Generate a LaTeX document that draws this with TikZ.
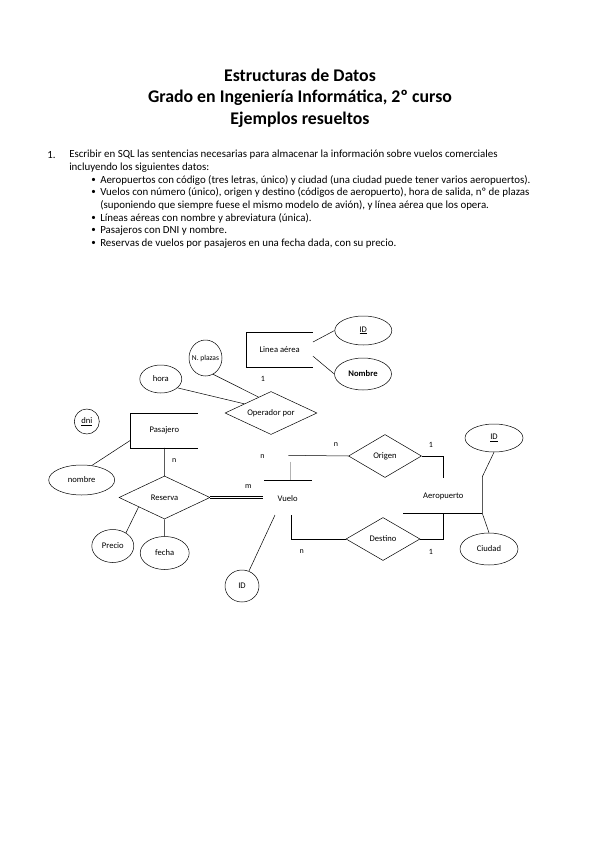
\documentclass[tikz,border=0pt]{standalone}
\usepackage{fontspec}
\setmainfont{Carlito}
\usetikzlibrary{shapes.geometric}

\begin{document}
\begin{tikzpicture}[x=1pt,y=-1pt,line width=0.5pt,
  title/.style={font=\fontsize{17.8}{20}\selectfont\bfseries,inner sep=0pt},
  txt/.style={anchor=west,font=\fontsize{10.9}{12}\selectfont,inner sep=0pt},
  bul/.style={font=\fontsize{9}{10}\selectfont,inner sep=0pt},
  attr/.style={draw,ellipse,inner sep=0pt,font=\fontsize{8.6}{10}\selectfont},
  rel/.style={draw,diamond,aspect=2,inner sep=0pt,font=\fontsize{8.6}{10}\selectfont},
  ent/.style={inner sep=0pt,font=\fontsize{8.6}{10}\selectfont},
  lbl/.style={inner sep=0pt,font=\fontsize{8}{9}\selectfont},
  dbl/.style={double,double distance=1.6pt}]
\useasboundingbox (0,0) rectangle (599,848);

% titulo
\node[title] (tit1) at (300,75.5) {Estructuras de Datos};
\node[title] (tit2) at (300,97.5) {Grado en Ingeniería Informática, 2º curso};
\node[title] (tit3) at (300,119.5) {Ejemplos resueltos};

% enunciado
\node[txt] (num) at (47,155) {1.};
\node[txt] (l1) at (69,155) {Escribir en SQL las sentencias necesarias para almacenar la información sobre vuelos comerciales};
\node[txt] (l2) at (69,167.6) {incluyendo los siguientes datos:};
\node[bul] (b1) at (93.5,180.2) {\textbullet};
\node[txt] (l3) at (100,180.2) {Aeropuertos con código (tres letras, único) y ciudad (una ciudad puede tener varios aeropuertos).};
\node[bul] (b2) at (93.5,192.8) {\textbullet};
\node[txt] (l4) at (100,192.8) {Vuelos con número (único), origen y destino (códigos de aeropuerto), hora de salida, nº de plazas};
\node[txt] (l5) at (100,205.4) {(suponiendo que siempre fuese el mismo modelo de avión), y línea aérea que los opera.};
\node[bul] (b3) at (93.5,218) {\textbullet};
\node[txt] (l6) at (100,218) {Líneas aéreas con nombre y abreviatura (única).};
\node[bul] (b4) at (93.5,230.6) {\textbullet};
\node[txt] (l7) at (100,230.6) {Pasajeros con DNI y nombre.};
\node[bul] (b5) at (93.5,243.2) {\textbullet};
\node[txt] (l8) at (100,243.2) {Reservas de vuelos por pasajeros en una fecha dada, con su precio.};

% entidades y atributos
\node[ent,minimum width=66pt,minimum height=34pt] (linea) at (279.7,349.7) {Linea aérea};
\node[attr,minimum width=57pt,minimum height=29pt] (lineaid) at (363.3,330.5) {\underline{ID}};
\node[attr,minimum width=57pt,minimum height=32pt] (lineanom) at (363,374) {\bfseries Nombre};
\node[attr,minimum width=33pt,minimum height=36pt,font=\fontsize{7.5}{9}\selectfont] (plazas) at (205.5,358) {\makebox[0pt]{N. plazas}};
\node[attr,minimum width=42pt,minimum height=28pt] (hora) at (160.8,379) {hora};
\node[rel,minimum width=92pt,minimum height=43pt] (opera) at (271,413) {Operador por};
\node[attr,minimum width=25pt,minimum height=25pt] (dni) at (86.8,421.5) {\underline{dni}};
\node[ent,minimum width=66.7pt,minimum height=34.4pt] (pasajero) at (164.3,430.5) {Pasajero};
\node[attr,minimum width=66pt,minimum height=30pt] (nombre) at (81.7,480) {nombre};
\node[rel,minimum width=91pt,minimum height=43pt] (reserva) at (164.5,497.5) {Reserva};
\node[attr,minimum width=42pt,minimum height=33pt] (precio) at (112.8,546) {Precio};
\node[attr,minimum width=49pt,minimum height=33pt] (fecha) at (164.7,553) {fecha};
\node[ent] (vuelo) at (287.7,498.3) {Vuelo};
\node[attr,minimum width=34pt,minimum height=32pt] (vueloid) at (242,586) {ID};
\node[rel,minimum width=73pt,minimum height=43pt] (origen) at (385,456) {Origen};
\node[rel,minimum width=74pt,minimum height=43pt] (destino) at (383,539) {Destino};
\node[ent] (aero) at (443.3,496) {Aeropuerto};
\node[attr,minimum width=58pt,minimum height=28pt] (aeroid) at (494,438) {\underline{ID}};
\node[attr,minimum width=58pt,minimum height=32pt] (ciudad) at (489,549) {Ciudad};

% puntos sueltos alrededor de Vuelo y Aeropuerto
\coordinate (vtopl) at (264,480);
\coordinate (vtopr) at (312,480);
\coordinate (vorig) at (288.3,455.3);
\coordinate (vleft) at (262.7,495);
\coordinate (vbot) at (291.7,515);
\coordinate (vidtop) at (275,515);
\coordinate (atop) at (443.3,478.3);
\coordinate (abl) at (403.3,513.3);
\coordinate (abr) at (482.3,513.3);
\coordinate (abm) at (443.3,513.3);
\coordinate (aidl) at (482.3,476.7);

% rectangulos abiertos
\draw (linea.north east) -- (linea.north west) -- (linea.south west) -- (linea.south east);
\draw (pasajero.north east) -- (pasajero.north west) -- (pasajero.south west) -- (pasajero.south east);
\draw (vtopl) -- (vtopr);
\draw (abl) -- (abr);

% conexiones
\draw (linea.13) -- (lineaid.west);
\draw (linea.-11) -- (lineanom.west);
\draw (plazas.-65) -- (opera.128);
\draw (hora.-28) -- (opera.161);
\draw[dbl] (opera.south) -- (opera.south |- vtopl);
\draw (origen.west) -- (vorig);
\draw[gray!60] (290,461.7) -- (290,480);
\draw (origen.east) -| (atop);
\draw (destino.east) -| (abm);
\draw (destino.west) -| (vbot);
\draw (vidtop) -- (vueloid);
\draw (abr) -- (aidl) -- (aeroid.south);
\draw (abr) -- (ciudad.north);
\draw (pasajero.south) -- (reserva.north);
\draw (pasajero.196) -- (nombre.55);
\draw[dbl] (reserva.east) -- (reserva.east -| vleft);
\draw (precio.45) -- (reserva.200);
\draw (reserva.south) -- (fecha.north);

% cardinalidades
\node[lbl] (c1) at (263,379) {1};
\node[lbl] (c2) at (262.5,456.7) {n};
\node[lbl] (c3) at (336,445) {n};
\node[lbl] (c4) at (431,445) {1};
\node[lbl] (c5) at (174.3,460.7) {n};
\node[lbl] (c6) at (248.3,486.7) {m};
\node[lbl] (c7) at (301.7,551.7) {n};
\node[lbl] (c8) at (431,551.7) {1};
\end{tikzpicture}
\end{document}
